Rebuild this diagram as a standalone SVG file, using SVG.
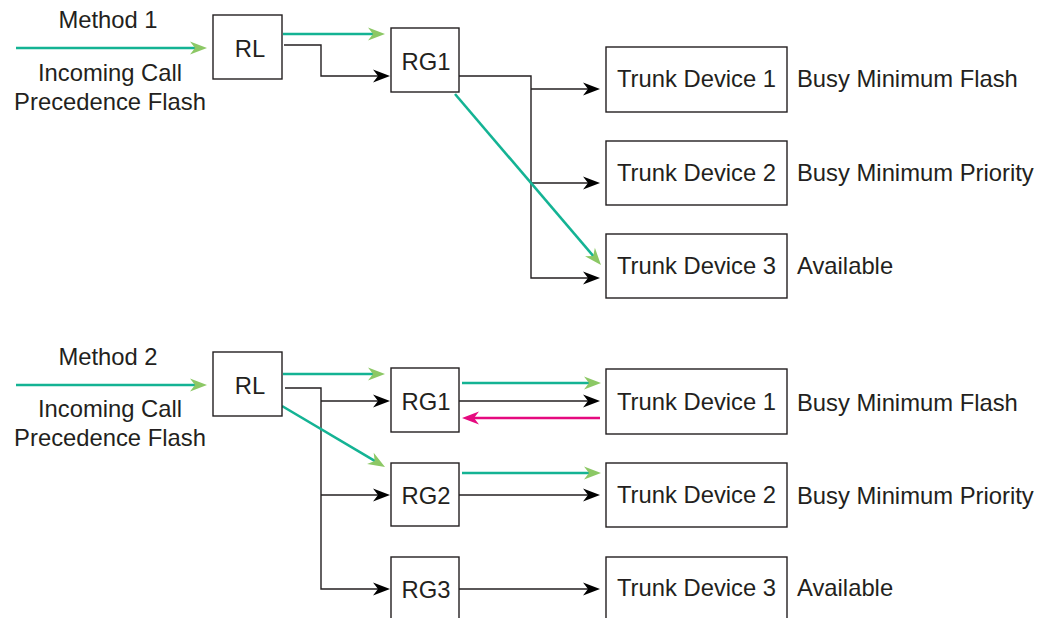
<svg xmlns="http://www.w3.org/2000/svg" width="1041" height="618" viewBox="0 0 1041 618">
<style>
.box{fill:#fff;stroke:#231f20;stroke-width:1.4}
.t{font-family:"Liberation Sans",Arial,sans-serif;font-size:23.8px;fill:#231f20}
.c{text-anchor:middle}
.k{fill:none;stroke:#231f20;stroke-width:1.4}
.g{fill:none;stroke:#14b394;stroke-width:2.6}
.m{fill:none;stroke:#e5097f;stroke-width:2.6}
</style>
<defs>
<marker id="ak" viewBox="-8 -8 20 16" refX="0" refY="0" markerWidth="20" markerHeight="16" markerUnits="userSpaceOnUse" orient="auto">
<path d="M10,0 L-7,-6.5 L-2,0 L-7,6.5 Z" fill="#000"/>
</marker>
<marker id="ag" viewBox="-8 -8 20 16" refX="0" refY="0" markerWidth="20" markerHeight="16" markerUnits="userSpaceOnUse" orient="auto">
<path d="M10,0 L-7,-6.5 L-2,0 L-7,6.5 Z" fill="#8cc865"/>
</marker>
<marker id="am" viewBox="-8 -8 20 16" refX="0" refY="0" markerWidth="20" markerHeight="16" markerUnits="userSpaceOnUse" orient="auto">
<path d="M10,0 L-7,-6.5 L-2,0 L-7,6.5 Z" fill="#e5097f"/>
</marker>
</defs>
<rect width="1041" height="618" fill="#fff"/>

<g id="labels">
<text class="t c" x="108" y="28">Method 1</text>
<text class="t c" x="110" y="81">Incoming Call</text>
<text class="t c" x="110" y="110">Precedence Flash</text>
<text class="t" x="797" y="87">Busy Minimum Flash</text>
<text class="t" x="797" y="181">Busy Minimum Priority</text>
<text class="t" x="797" y="274">Available</text>
<text class="t c" x="108" y="365">Method 2</text>
<text class="t c" x="110" y="417">Incoming Call</text>
<text class="t c" x="110" y="446">Precedence Flash</text>
<text class="t" x="797" y="411">Busy Minimum Flash</text>
<text class="t" x="797" y="504">Busy Minimum Priority</text>
<text class="t" x="797" y="596">Available</text>
</g>

<g id="connectors">
<path class="g" d="M16,48 H197" marker-end="url(#ag)"/>
<path class="g" d="M283,34 H375" marker-end="url(#ag)"/>
<path class="k" d="M284,45 H321 V76 H380" marker-end="url(#ak)"/>
<path class="k" d="M459,76 H531 V278 H590" marker-end="url(#ak)"/>
<path class="k" d="M531,89 H590" marker-end="url(#ak)"/>
<path class="k" d="M531,183 H590" marker-end="url(#ak)"/>
<path class="g" d="M455,94 L594.5,257.4" marker-end="url(#ag)"/>

<path class="g" d="M16,385 H197" marker-end="url(#ag)"/>
<path class="g" d="M283,374 H375" marker-end="url(#ag)"/>
<path class="k" d="M285,388 H321 V589 H380" marker-end="url(#ak)"/>
<path class="k" d="M321,401 H380" marker-end="url(#ak)"/>
<path class="k" d="M321,495 H380" marker-end="url(#ak)"/>
<path class="g" d="M282,406 L376.4,461.9" marker-end="url(#ag)"/>
<path class="g" d="M462,383 H591" marker-end="url(#ag)"/>
<path class="k" d="M459,401 H590" marker-end="url(#ak)"/>
<path class="m" d="M600,418 H472" marker-end="url(#am)"/>
<path class="g" d="M462,473 H591" marker-end="url(#ag)"/>
<path class="k" d="M459,495 H590" marker-end="url(#ak)"/>
<path class="k" d="M459,589 H590" marker-end="url(#ak)"/>
</g>

<g id="m1-rl"><rect class="box" x="213" y="15" width="69" height="64"/><text class="t c" x="250" y="57">RL</text></g>
<g id="m1-rg1"><rect class="box" x="391" y="28" width="68" height="64"/><text class="t c" x="426" y="70">RG1</text></g>
<g id="m1-td1"><rect class="box" x="606" y="47" width="181" height="65"/><text class="t c" x="696.5" y="87">Trunk Device 1</text></g>
<g id="m1-td2"><rect class="box" x="606" y="141" width="181" height="64"/><text class="t c" x="696.5" y="181">Trunk Device 2</text></g>
<g id="m1-td3"><rect class="box" x="606" y="234" width="181" height="64"/><text class="t c" x="696.5" y="274">Trunk Device 3</text></g>

<g id="m2-rl"><rect class="box" x="213" y="352" width="69" height="64"/><text class="t c" x="250" y="394">RL</text></g>
<g id="m2-rg1"><rect class="box" x="391" y="368" width="68" height="64"/><text class="t c" x="426" y="410">RG1</text></g>
<g id="m2-rg2"><rect class="box" x="391" y="463" width="68" height="63"/><text class="t c" x="426" y="504">RG2</text></g>
<g id="m2-rg3"><rect class="box" x="391" y="557" width="68" height="64"/><text class="t c" x="426" y="598">RG3</text></g>
<g id="m2-td1"><rect class="box" x="606" y="369" width="181" height="65"/><text class="t c" x="696.5" y="410">Trunk Device 1</text></g>
<g id="m2-td2"><rect class="box" x="606" y="463" width="181" height="64"/><text class="t c" x="696.5" y="503">Trunk Device 2</text></g>
<g id="m2-td3"><rect class="box" x="606" y="557" width="181" height="64"/><text class="t c" x="696.5" y="596">Trunk Device 3</text></g>
</svg>
